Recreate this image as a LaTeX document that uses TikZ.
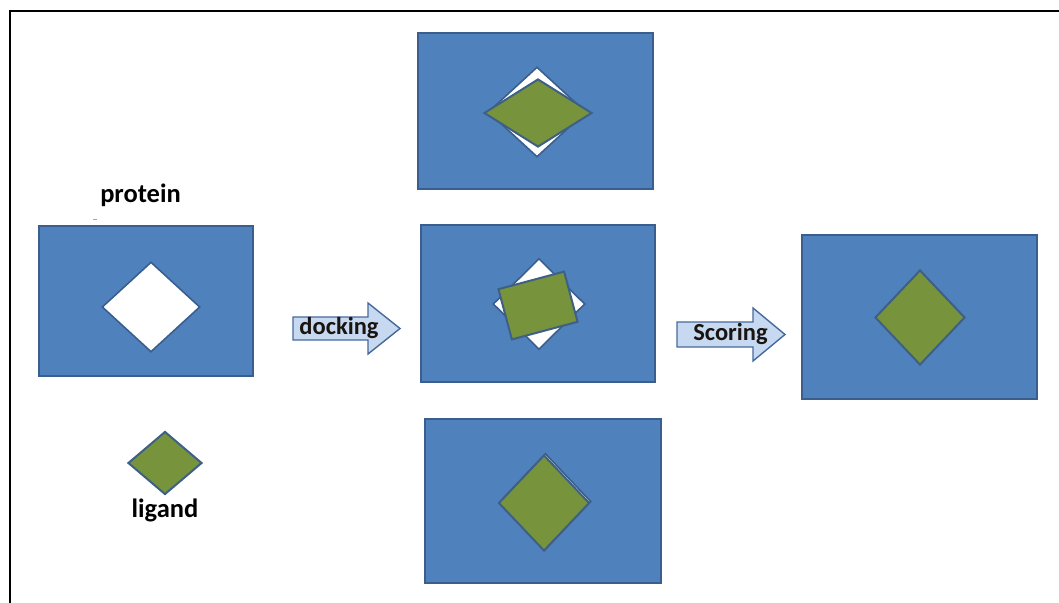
\documentclass[tikz,border=0pt]{standalone}
\usepackage{fontspec}
\setmainfont{Carlito}
\usetikzlibrary{shapes.geometric}
\definecolor{protblue}{HTML}{4F81BD}
\definecolor{protedge}{HTML}{3A5F8E}
\definecolor{ligfill}{HTML}{77933C}
\definecolor{ligedge}{HTML}{3F6085}
\definecolor{arrfill}{HTML}{C6D9F1}
\definecolor{arredge}{HTML}{46699A}
\definecolor{arrtext}{HTML}{1A1410}
\begin{document}
\begin{tikzpicture}[x=1pt,y=-1pt,
  protbox/.style={draw=protedge,fill=protblue,line width=1.4pt,inner sep=0pt},
  pocket/.style={diamond,draw=protedge,fill=white,line width=1.6pt,inner sep=0pt},
  ligdia/.style={diamond,draw=ligedge,fill=ligfill,line width=2pt,inner sep=0pt},
  ligrect/.style={draw=ligedge,fill=ligfill,line width=2pt,inner sep=0pt},
  blockarrow/.style={draw=arredge,fill=arrfill,line width=1.4pt,line join=miter},
  lbl/.style={font=\bfseries\fontsize{26.5}{30}\selectfont,inner sep=0pt},
  arrlbl/.style={font=\bfseries\fontsize{24.5}{28}\selectfont,text=arrtext,inner sep=0pt}]
\useasboundingbox (0,0) rectangle (1059,602);
% outer frame
\draw[line width=2pt] (10,605) -- (10,11) -- (1062,11);

% protein with empty pocket, and the free ligand
\node[protbox,minimum width=214,minimum height=150] (prot) at (146,301) {};
\node[pocket,minimum width=98,minimum height=90] (pock) at (151,307) {};
\node[lbl,anchor=base] (protlbl) at (140.5,202) {protein};
\draw[gray!70,line width=1pt] (93,219.5) -- (97,219.5);
\node[ligdia,minimum width=74,minimum height=63] (lig) at (165,463) {};
\node[lbl,anchor=base] (liglbl) at (165,517) {ligand};

% docking arrow
\draw[blockarrow] (293,317) -- (368,317) -- (368,303) -- (400,328.5) -- (368,354) -- (368,340) -- (293,340) -- cycle;
\node[arrlbl] (dock) at (339,328) {docking};

% candidate poses
\node[protbox,minimum width=235,minimum height=156] (poseA) at (535.5,111) {};
\node[pocket,minimum width=98,minimum height=90] (pockA) at (537,112) {};
\node[ligdia,minimum width=108,minimum height=68] (ligA) at (538,113) {};

\node[protbox,minimum width=234,minimum height=157] (poseB) at (538,303.5) {};
\node[pocket,minimum width=92,minimum height=91] (pockB) at (539,304) {};
\node[ligrect,minimum width=68,minimum height=52,rotate=15] (ligB) at (538,305.5) {};

\node[protbox,minimum width=236,minimum height=164] (poseC) at (543,501) {};
\node[pocket,minimum width=91,minimum height=96] (pockC) at (545.5,501.5) {};
\node[ligdia,minimum width=91,minimum height=96] (ligC) at (544,503) {};

% scoring arrow
\draw[blockarrow] (677,322) -- (753,322) -- (753,308) -- (785,334.5) -- (753,361) -- (753,347) -- (677,347) -- cycle;
\node[arrlbl] (score) at (730.5,334) {Scoring};

% best pose
\node[protbox,minimum width=235,minimum height=164] (best) at (919.5,317) {};
\node[ligdia,minimum width=90,minimum height=95] (ligBest) at (920,317.5) {};
\end{tikzpicture}
\end{document}
